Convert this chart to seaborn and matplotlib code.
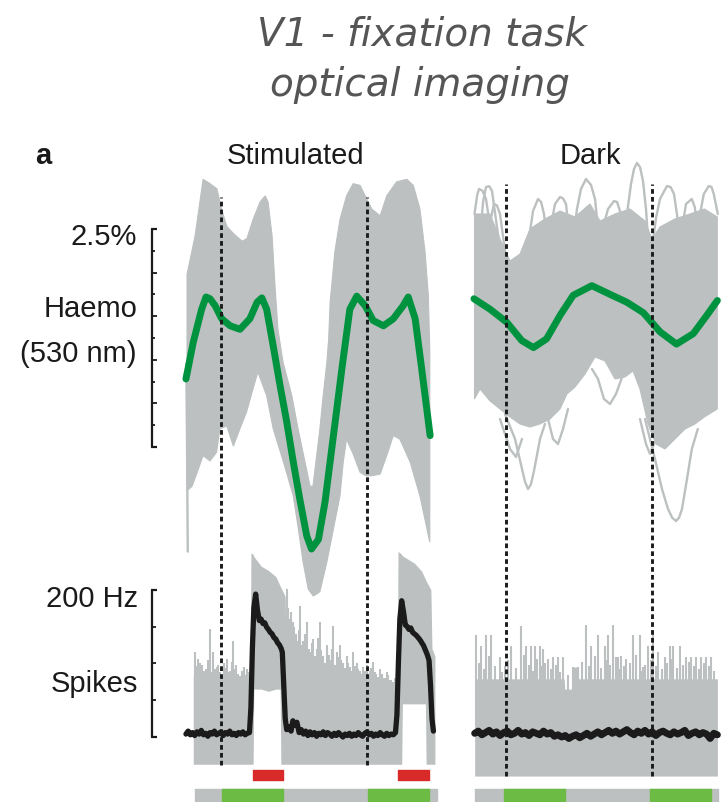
import numpy as np
import pandas as pd
import matplotlib
matplotlib.use("Agg")
import matplotlib.pyplot as plt
import seaborn as sns

sns.set_theme(style="white")
plt.rcParams["font.family"] = ["Liberation Sans", "DejaVu Sans"]

# ---------------- data ----------------
# time in s relative to trial onset, haemodynamic signal in %, firing rate in Hz
trial_onsets = [0.0, 4.0]

# stimulated condition: spread of single-trial haemodynamic traces
stim_up_t = [-0.93, -0.71, -0.49, -0.30, -0.11, 0.0, 0.16, 0.36, 0.58, 0.71, 0.88, 1.07, 1.21, 1.29,
             1.40, 1.48, 1.56, 1.70, 1.94, 2.11, 2.30, 2.44, 2.52, 2.71, 2.80, 2.90, 2.95, 2.99,
             3.12, 3.26, 3.44, 3.62, 3.81, 3.95, 4.13, 4.36, 4.54, 4.81, 5.09, 5.27, 5.45, 5.59,
             5.68, 5.72]
stim_up_v = [0.73, 1.17, 1.82, 1.77, 1.71, 1.50, 1.28, 1.19, 1.11, 1.14, 1.36, 1.56, 1.63, 1.56,
             1.17, 0.60, 0.10, -0.28, -0.66, -1.04, -1.42, -1.70, -1.70, -1.04, -0.66, -0.28, -0.01, 0.41,
             0.99, 1.36, 1.63, 1.77, 1.75, 1.63, 1.48, 1.40, 1.63, 1.79, 1.82, 1.75, 1.48, 0.99,
             0.49, -0.13]
stim_lo_t = [-0.93, -0.79, -0.66, -0.49, -0.30, -0.12, -0.03, 0.16, 0.34, 0.52, 0.70, 0.88, 1.01,
             1.25, 1.43, 1.71, 1.98, 2.12, 2.25, 2.39, 2.53, 2.71, 2.90, 3.08, 3.26, 3.35, 3.44,
             3.62, 3.81, 3.97, 4.14, 4.36, 4.54, 4.72, 4.90, 5.18, 5.45, 5.72]
stim_lo_v = [-1.75, -1.70, -1.55, -1.35, -1.41, -1.31, -1.04, -1.01, -1.24, -1.04, -0.85, -0.58, -0.39,
             -0.66, -1.04, -1.42, -1.81, -2.19, -2.57, -2.88, -2.96, -2.91, -2.57, -2.19, -1.81, -1.42, -1.16,
             -1.33, -1.54, -1.58, -1.58, -1.56, -1.35, -1.12, -1.16, -1.42, -1.81, -2.34]
stim_trials_t = [[-0.95, -0.93, -0.92, -0.91]]
stim_trials_v = [[-0.30, -1.20, -1.90, -2.45]]

# stimulated condition: trial-averaged haemodynamic signal
stim_mean_t = [-0.96, -0.76, -0.53, -0.41, -0.30, -0.16, 0.02, 0.25, 0.52, 0.79, 0.99, 1.12, 1.25,
               1.43, 1.62, 1.80, 1.98, 2.16, 2.35, 2.48, 2.67, 2.85, 3.08, 3.31, 3.53, 3.72, 3.95,
               4.17, 4.45, 4.72, 4.99, 5.13, 5.32, 5.50, 5.73]
stim_mean_v = [-0.47, -0.05, 0.33, 0.47, 0.45, 0.37, 0.22, 0.14, 0.10, 0.22, 0.41, 0.46, 0.33,
               -0.09, -0.55, -0.96, -1.42, -1.85, -2.27, -2.42, -2.31, -1.88, -1.12, -0.36, 0.33, 0.48, 0.37,
               0.20, 0.14, 0.22, 0.37, 0.47, 0.22, -0.36, -1.12]

# dark condition: dense spread of single-trial traces
dark_up_t = [-0.855, -0.430, -0.156, 0.118, 0.392, 0.666, 1.077, 1.488, 1.899, 2.310, 2.584, 2.995,
             3.405, 3.816, 4.008, 4.227, 4.638, 5.049, 5.444, 5.797]
dark_up_v = [1.422, 1.422, 1.135, 0.883, 0.963, 1.250, 1.365, 1.456, 1.388, 1.537, 1.342, 1.422,
             1.479, 1.342, 1.135, 1.273, 1.365, 1.422, 1.479, 1.388]
dark_lo_t = [-0.855, -0.704, -0.430, -0.156, 0.118, 0.392, 0.666, 0.940, 1.214, 1.488, 1.679, 1.899,
             2.173, 2.447, 2.721, 2.995, 3.268, 3.488, 3.679, 3.899, 4.118, 4.364, 4.638, 4.912,
             5.186, 5.444, 5.797]
dark_lo_v = [-0.700, -0.585, -0.722, -0.814, -0.906, -0.986, -1.021, -0.986, -0.929, -0.814, -0.642, -0.562,
             -0.413, -0.218, -0.264, -0.470, -0.447, -0.378, -0.585, -0.986, -1.216, -1.273, -1.158, -1.044,
             -0.986, -0.906, -0.814]
# dark condition: individual outlying trials
dark_trials_t = [
    [-0.855, -0.780, -0.732, -0.640, -0.540, -0.375],
    [-0.704, -0.620, -0.540, -0.450, -0.375, -0.156],
    [-0.485, -0.400, -0.321, -0.240, -0.156, 0.008],
    [0.556, 0.660, 0.748, 0.885, 0.970, 1.049, 1.214],
    [1.159, 1.260, 1.351, 1.488, 1.570, 1.652, 1.816],
    [1.816, 1.953, 2.063, 2.200, 2.337, 2.447, 2.584],
    [2.584, 2.700, 2.803, 2.967, 3.050, 3.132, 3.296],
    [3.192, 3.323, 3.433, 3.515, 3.597, 3.679, 3.762, 3.844, 3.899],
    [4.008, 4.120, 4.227, 4.419, 4.520, 4.611, 4.830],
    [4.775, 4.860, 4.940, 5.099, 5.180, 5.263],
    [5.263, 5.340, 5.427, 5.564, 5.640, 5.701, 5.811],
    [-0.019, 0.255, 0.447, 0.530, 0.611, 0.690, 0.775, 0.940, 1.077],
    [1.159, 1.296, 1.433, 1.570, 1.707],
    [-0.156, 0.118, 0.282, 0.447],
    [2.364, 2.529, 2.693, 2.858, 3.022, 3.192],
    [3.816, 4.090, 4.282, 4.447, 4.560, 4.666, 4.750, 4.830, 4.967, 5.099, 5.263],
    [3.679, 3.844, 3.953, 4.118],
]
dark_trials_v = [
    [1.422, 1.640, 1.709, 1.690, 1.594, 1.135],
    [1.135, 1.560, 1.732, 1.740, 1.686, 1.021],
    [1.021, 1.380, 1.537, 1.520, 1.422, 0.906],
    [0.791, 1.200, 1.456, 1.594, 1.560, 1.422, 0.849],
    [0.906, 1.330, 1.537, 1.617, 1.600, 1.537, 0.906],
    [1.021, 1.479, 1.709, 1.823, 1.755, 1.594, 1.021],
    [1.021, 1.320, 1.479, 1.571, 1.560, 1.456, 1.021],
    [0.906, 1.422, 1.766, 1.938, 2.007, 1.961, 1.800, 1.479, 1.135],
    [1.021, 1.380, 1.594, 1.743, 1.730, 1.651, 1.021],
    [1.021, 1.330, 1.537, 1.594, 1.500, 1.250],
    [1.135, 1.460, 1.651, 1.743, 1.730, 1.651, 1.422],
    [-0.872, -1.158, -1.502, -1.650, -1.732, -1.680, -1.525, -1.158, -0.986],
    [-0.929, -1.158, -1.216, -1.044, -0.814],
    [-0.929, -1.273, -1.365, -1.158],
    [-0.356, -0.470, -0.700, -0.757, -0.642, -0.447],
    [-0.929, -1.388, -1.732, -1.961, -2.060, -2.099, -2.060, -1.961, -1.617, -1.273, -1.044],
    [-0.929, -1.216, -1.330, -1.158],
]
dark_mean_t = [-0.87, -0.43, 0.03, 0.44, 0.76, 1.12, 1.49, 1.85, 2.36, 2.86, 3.32, 3.77, 4.23,
               4.68, 5.14, 5.51, 5.80]
dark_mean_v = [0.45, 0.33, 0.18, -0.03, -0.11, -0.01, 0.26, 0.49, 0.60, 0.50, 0.41, 0.29, 0.07,
               -0.07, 0.05, 0.26, 0.43]

# spiking: range covered by single trials
stim_band_t = [-0.76, -0.25, -0.24, 0.80, 0.82, 0.88, 0.90, 1.10, 1.30, 1.50, 1.62, 1.64, 1.72,
               1.76, 1.78, 2.30, 2.90, 3.50, 4.83, 4.85, 4.95, 4.97, 5.30, 5.50, 5.60, 5.62, 5.75,
               5.78, 5.86]
stim_band_hi = [83, 83, 70, 70, 250, 248, 245, 232, 226, 218, 205, 203, 195,
                190, 100, 95, 85, 75, 72, 252, 248, 246, 236, 225, 214, 212, 200,
                120, 110]
stim_band_lo = [-37, -37, -37, -37, -37, -37, 65, 65, 62, 65, 65, -37, -37,
                -37, -37, -37, -37, -37, -37, -37, -37, 45, 45, 45, 45, -37, -37,
                -37, -37]
stim_peak_t = [-0.70, -0.66, -0.62, -0.57, -0.52, -0.46, -0.40, -0.35, -0.30, -0.25, -0.21, -0.16,
               -0.12, -0.07, -0.02, 0.03, 0.08, 0.12, 0.16, 0.21, 0.25, 0.30, 0.34, 0.38, 0.42, 0.47,
               0.52, 0.57, 0.62, 0.66, 0.70, 0.75,
               1.80, 1.83, 1.86, 1.89, 1.92, 1.95, 1.98, 2.01, 2.05, 2.07, 2.10, 2.13, 2.16, 2.20,
               2.25, 2.30, 2.35, 2.40, 2.45, 2.49, 2.53, 2.58, 2.62, 2.66, 2.71, 2.75, 2.80, 2.85,
               2.90, 2.95, 3.00, 3.04, 3.08, 3.12, 3.17, 3.21, 3.26, 3.30, 3.35, 3.40, 3.44, 3.48,
               3.53, 3.57, 3.62, 3.67, 3.72, 3.76, 3.81, 3.85, 3.90, 3.94, 3.99, 4.03, 4.08, 4.12,
               4.17, 4.21, 4.26, 4.31, 4.36, 4.40, 4.45, 4.49, 4.54, 4.58, 4.63, 4.67, 4.72, 4.76]
stim_peak_hz = [115, 96, 106, 100, 98, 90, 92, 104, 147, 88, 115, 92,
                95, 98, 88, 84, 100, 94, 106, 88, 90, 102, 130, 92, 98, 86,
                83, 90, 95, 84, 92, 88,
                201, 175, 150, 160, 170, 140, 156, 150, 140, 130, 120, 145, 178, 125,
                130, 140, 156, 120, 115, 128, 133, 110, 120, 135, 156, 118, 110, 100,
                125, 112, 105, 120, 151, 98, 115, 108, 125, 104, 100, 94, 110, 100,
                95, 90, 115, 96, 100, 92, 90, 86, 95, 90, 98, 84, 90, 94,
                102, 88, 85, 82, 92, 86, 80, 80, 88, 84, 78, 78, 75, 80]

dark_band_t = [-0.85, 1.60, 1.62, 1.80, 1.82, 1.98, 2.00, 3.70, 3.72, 3.80, 3.82, 5.80]
dark_band_hi = [79, 79, 65, 65, 95, 95, 79, 79, 65, 65, 79, 79]
dark_band_lo = [-53] * 12
dark_peak_t = [-0.80, -0.74, -0.67, -0.60, -0.53, -0.46, -0.39, -0.28, -0.16, -0.10, -0.03, 0.06,
               0.15, 0.29, 0.43, 0.50, 0.56, 0.63, 0.70, 0.75, 0.79, 0.86, 0.93, 0.98, 1.02, 1.09,
               1.16, 1.23, 1.30, 1.37, 1.43, 1.50, 1.57, 1.70, 1.84, 1.91, 1.98, 2.10, 2.21, 2.28,
               2.35, 2.44, 2.53, 2.62, 2.71, 2.76, 2.80, 2.87, 2.94, 3.01, 3.08, 3.12, 3.17, 3.24,
               3.30, 3.40, 3.49, 3.58, 3.67, 3.72, 3.76, 3.83, 3.90, 3.97, 4.04, 4.11, 4.17, 4.27,
               4.36, 4.43, 4.49, 4.54, 4.58, 4.68, 4.77, 4.86, 4.95, 5.02, 5.08, 5.15, 5.22, 5.29,
               5.36, 5.43, 5.50, 5.57, 5.63, 5.72]
dark_peak_hz = [138, 100, 124, 92, 138, 110, 138, 96, 108, 88, 97, 104,
                124, 94, 151, 112, 124, 98, 124, 90, 124, 106, 124, 96, 119, 100,
                106, 92, 108, 98, 108, 88, 108, 84, 95, 90, 95, 102, 152, 96,
                124, 110, 138, 94, 124, 104, 138, 98, 152, 108, 108, 92, 110, 96,
                106, 100, 138, 112, 138, 90, 95, 98, 124, 104, 142, 96, 115, 92,
                108, 100, 124, 106, 124, 94, 124, 98, 108, 102, 108, 96, 108, 92,
                108, 100, 108, 96, 108, 90]

# spiking: trial-averaged firing rate
stim_rate_t = [-0.96, -0.90, -0.84, -0.78, -0.72, -0.66, -0.60, -0.54, -0.48, -0.42, -0.36, -0.30,
               -0.24, -0.18, -0.12, -0.06, 0.00, 0.06, 0.12, 0.18, 0.24, 0.30, 0.36, 0.42, 0.48,
               0.54, 0.60, 0.66, 0.72, 0.78,
               0.82, 0.86, 0.90, 0.95, 1.00, 1.05, 1.10, 1.15, 1.20, 1.25, 1.30, 1.35, 1.40, 1.45,
               1.50, 1.55, 1.60, 1.65, 1.68, 1.72, 1.76, 1.80, 1.86, 1.92, 1.97, 2.02, 2.08, 2.14,
               2.20, 2.26, 2.32, 2.38, 2.44, 2.50, 2.56, 2.62, 2.68, 2.74, 2.80, 2.86, 2.92, 2.98,
               3.04, 3.10, 3.16, 3.22, 3.28, 3.34, 3.40, 3.46, 3.52, 3.58, 3.64, 3.70, 3.76, 3.82,
               3.88, 3.94, 4.00, 4.06, 4.12, 4.18, 4.24, 4.30, 4.36, 4.42, 4.48, 4.54, 4.60, 4.66,
               4.72, 4.78,
               4.82, 4.86, 4.90, 4.95, 5.00, 5.05, 5.10, 5.15, 5.20, 5.25, 5.30, 5.35, 5.40, 5.45,
               5.50, 5.55, 5.60, 5.65, 5.70, 5.74, 5.78, 5.82]
stim_rate_hz = [4, 8, 3, 6, 2, 7, 4, 9, 3, 5, 1, 6, 4, 8, 3, 5, 7, 2, 6, 4, 8, 3, 5, 2, 6, 4, 7, 3, 5, 6,
                40, 120, 175, 194, 172, 158, 160, 154, 155, 149, 146, 142, 140, 135, 133, 128, 125,
                120, 115, 70, 25, 10, 14, 8, 22, 16, 20, 6,
                10, 4, 8, 2, 7, 3, 6, 1, 5, 3, 7, 2, 6, 4, 1, 5, 2, 6, 3, 0, 4, 2, 5, 1, 4, 2, 6, 3,
                1, 5, 7, 3, 5, 1, 4, 2, 6, 3, 1, 5, 2, 4, 3, 6,
                30, 100, 160, 185, 170, 152, 150, 146, 148, 142, 140, 138, 135, 132, 128, 124, 118,
                112, 104, 70, 25, 8]
dark_rate_hz = [5, 8, 3, 6, 9, 4, 7, 2, 6, 8, 3, 5, 9, 4, 6, 2, 7, 5, 3, 8, 4, 6, 1, 3, 0, 2, -2, 1,
                3, -1, 2, 5, 1, 4, 7, 3, 6, 9, 5, 8, 4, 7, 10, 6, 3, 8, 5, 9, 4, 7, 2, 6, 8, 5, 3, 7,
                4, 6, 9, 2, 5, 7, 3, 6, 4, -2, 5, 3]
dark_rate_t = np.linspace(-0.85, 5.80, len(dark_rate_hz))

# task epochs (start, end) in s
stim_record = (-0.71, 5.92)
stim_fixation = [(0.03, 1.70), (4.03, 5.70)]
stim_stimulus = [(0.88, 1.70), (4.85, 5.70)]
dark_record = (-0.83, 5.81)
dark_fixation = [(-0.05, 1.62), (3.95, 5.62)]

# ---------------- style ----------------
GRAY = "#bcc0c0"
GREEN = "#00933f"
BLACK = "#1b1b1b"
BAR_GRAY = "#bdc0c0"
BAR_GREEN = "#6cbb45"
RED = "#d92a2a"
TXT = "#1a1a1a"

W, H = 724, 803
fig = plt.figure(figsize=(W / 100, H / 100), dpi=100)


def add_ax(x0, y0, x1, y1):
    ax = fig.add_axes([x0 / W, 1 - y1 / H, (x1 - x0) / W, (y1 - y0) / H])
    ax.set_axis_off()
    ax.patch.set_alpha(0)
    return ax


def ftext(x, y, s, **kw):
    fig.text(x / W, 1 - y / H, s, **kw)


STIM_X = (-1.123, 6.0)
DARK_X = (-0.978, 5.926)
HAEMO_Y = (-3.108, 2.110)
SPIKE_Y = (-63.8, 268.8)

panels = [
    dict(px=(180, 440), xlim=STIM_X, up=(stim_up_t, stim_up_v), lo=(stim_lo_t, stim_lo_v),
         trials=(stim_trials_t, stim_trials_v), mean=(stim_mean_t, stim_mean_v),
         band=(stim_band_t, stim_band_lo, stim_band_hi), peaks=(stim_peak_t, stim_peak_hz),
         rate=(stim_rate_t, stim_rate_hz), rate_lw=3.8, dot=(198, 766),
         record=stim_record, fixation=stim_fixation, stimulus=stim_stimulus),
    dict(px=(470, 722), xlim=DARK_X, up=(dark_up_t, dark_up_v), lo=(dark_lo_t, dark_lo_v),
         trials=(dark_trials_t, dark_trials_v), mean=(dark_mean_t, dark_mean_v),
         band=(dark_band_t, dark_band_lo, dark_band_hi), peaks=(dark_peak_t, dark_peak_hz),
         rate=(dark_rate_t, dark_rate_hz), rate_lw=5.0, dot=(185, 777),
         record=dark_record, fixation=dark_fixation, stimulus=[]),
]

for p in panels:
    x0, x1 = p["px"]
    # haemodynamic row
    ah = add_ax(x0, 155, x1, 610)
    ah.set_xlim(*p["xlim"])
    ah.set_ylim(*HAEMO_Y)
    ut, uv = p["up"]
    lt, lv = p["lo"]
    ah.fill(np.r_[ut, lt[::-1]], np.r_[uv, lv[::-1]], color=GRAY, lw=0.8, ec=GRAY, zorder=1)
    for tt, vv in zip(*p["trials"]):
        ah.plot(tt, vv, color=GRAY, lw=1.7, solid_capstyle="round", solid_joinstyle="round",
                zorder=1)
    mt, mv = p["mean"]
    sns.lineplot(x=mt, y=mv, ax=ah, color=GREEN, lw=5.0, sort=False, estimator=None, zorder=3)
    ah.set_axis_off()

    # spiking row
    asp = add_ax(x0, 540, x1, 785)
    asp.set_xlim(*p["xlim"])
    asp.set_ylim(*SPIKE_Y)
    bt, blo, bhi = p["band"]
    asp.fill_between(bt, blo, bhi, color=GRAY, lw=0, zorder=1)
    pt, ph = p["peaks"]
    asp.vlines(pt, 0, ph, color=GRAY, lw=1.5, zorder=1)
    top_px, bot_px = p["dot"]
    for t0 in trial_onsets:
        asp.axvline(t0, ymin=(785 - bot_px) / 245, ymax=(785 - top_px) / 245, clip_on=False,
                    color=BLACK, lw=2.1, ls=(0, (1.6, 1.1)), zorder=2)
    rt, rh = p["rate"]
    df = pd.DataFrame({"t": rt, "hz": rh})
    sns.lineplot(data=df, x="t", y="hz", ax=asp, color=BLACK, lw=p["rate_lw"], sort=False,
                 estimator=None, zorder=4)
    asp.set_axis_off()

    # task epochs
    ae = add_ax(x0, 766, x1, 803)
    ae.set_xlim(*p["xlim"])
    ae.set_ylim(0, 37)
    r0, r1 = p["record"]
    ae.broken_barh([(r0, r1 - r0)], (1, 12), color=BAR_GRAY)
    ae.broken_barh([(a, b - a) for a, b in p["fixation"]], (1, 12), color=BAR_GREEN)
    if p["stimulus"]:
        ae.broken_barh([(a, b - a) for a, b in p["stimulus"]], (22, 10), color=RED)

# scale bars
sh = add_ax(140, 155, 170, 610)
sh.set_xlim(140, 170)
sh.set_ylim(*HAEMO_Y)
sh.plot([151.7, 151.7], [-1.25, 1.25], color=TXT, lw=1.6, solid_capstyle="butt")
for v in [-1.25, 1.25]:
    sh.plot([151.2, 156.5], [v, v], color=TXT, lw=1.6, solid_capstyle="butt")
for v, ln in [(-1.0, 3), (-0.75, 5), (-0.5, 3), (-0.25, 5), (0.0, 3), (0.25, 5), (0.5, 3), (0.75, 5), (1.0, 3)]:
    sh.plot([151.7, 151.7 + ln], [v, v], color=TXT, lw=1.3, solid_capstyle="butt")

ss = add_ax(140, 540, 170, 785)
ss.set_xlim(140, 170)
ss.set_ylim(*SPIKE_Y)
ss.plot([151.7, 151.7], [0, 200], color=TXT, lw=1.6, solid_capstyle="butt")
for v in [0, 200]:
    ss.plot([151.2, 157], [v, v], color=TXT, lw=1.6, solid_capstyle="butt")
for v in [50, 100, 150]:
    ss.plot([151.7, 156], [v, v], color=TXT, lw=1.3, solid_capstyle="butt")

# text
title_kw = dict(ha="center", va="baseline", fontsize=28, style="italic", family="DejaVu Sans",
                color="#555555")
ftext(422, 45, "V1 - fixation task", **title_kw)
ftext(420, 96, "optical imaging", **title_kw)
lab = dict(fontsize=21, color=TXT, va="baseline")
ftext(43, 164, "a", ha="center", fontweight="bold", **lab)
ftext(295, 164, "Stimulated", ha="center", **lab)
ftext(590, 164, "Dark", ha="center", **lab)
ftext(137, 245, "2.5%", ha="right", **lab)
ftext(137, 317, "Haemo", ha="right", **lab)
ftext(137, 362, "(530 nm)", ha="right", **lab)
ftext(138, 607, "200 Hz", ha="right", **lab)
ftext(138, 692, "Spikes", ha="right", **lab)

fig.savefig("out.png", dpi=100)
